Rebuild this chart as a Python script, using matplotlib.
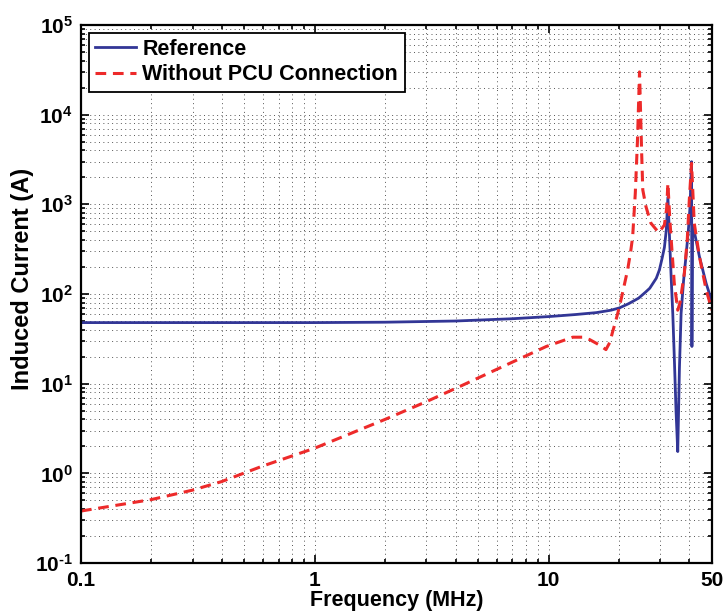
import math
import matplotlib
matplotlib.use("Agg")
import matplotlib.pyplot as plt
from matplotlib.ticker import FixedLocator, FuncFormatter, LogLocator, NullFormatter

plt.rcParams['font.family'] = ['Liberation Sans', 'DejaVu Sans']
plt.rcParams['font.weight'] = 'bold'
plt.rcParams['mathtext.fontset'] = 'custom'
plt.rcParams['mathtext.bf'] = 'Liberation Sans:bold'
plt.rcParams['mathtext.rm'] = 'Liberation Sans:bold'

# Reference (blue, solid)
ref_freq = [0.1, 0.5, 1, 2, 4, 7, 10, 13, 16, 18.5, 20.1, 22, 24.3, 26, 27.1,
            28.9, 29.8, 30.6, 31.3, 31.9, 32.4, 32.9, 33.4, 34.0, 34.5, 35.1,
            35.7, 36.3, 36.9, 37.8, 38.7, 39.6, 40.3, 40.9, 41.05, 41.3, 42.0,
            44.2, 47.2, 50]
ref_curr = [48, 48, 48, 48.5, 50, 53, 56, 59, 62, 66, 70, 78, 90, 105, 116,
            150, 186, 250, 330, 520, 1200, 450, 171, 60, 20, 5,
            1.75, 15, 61, 140, 261, 500, 944, 2990, 26, 580, 500,
            261, 132, 82]

# Without PCU connection (red, dashed)
pcu_freq = [0.1, 0.2, 0.3, 0.4, 0.59, 1.0, 2.0, 3.0, 4.17, 6.6, 9.78, 12.7,
            14.0, 15.0, 16.5, 17.6, 18.3, 18.8, 19.3, 20.1, 21.0, 21.8, 22.5,
            22.9, 23.5, 24.0, 24.5, 25.0, 25.3, 26.1, 27.4, 29.6, 31.3, 32.0,
            32.4, 33.0, 33.4, 34.5, 35.7, 36.5, 38.1, 39.2, 40.0, 40.9, 42.0,
            44.2, 47.2, 50]
pcu_curr = [0.38, 0.51, 0.65, 0.81, 1.19, 1.91, 4.0, 6.3, 9.3, 16.2, 26, 33,
            33, 31, 27, 24, 29, 38, 48, 72, 120, 187, 309,
            437, 1330, 5000, 30000, 4000, 1450, 944, 617, 484, 588, 900,
            1720, 700, 437, 132, 66, 80, 171, 400, 1120, 2870, 617,
            261, 112, 66]

x_ticks = [0.1, 1, 10, 50]
x_labels = ['0.1', '1', '10', '50']
y_ticks = [1e-1, 1e0, 1e1, 1e2, 1e3, 1e4, 1e5]


def pow_label(v, pos):
    e = str(round(math.log10(v))).replace('-', '\u2010')
    return r'$\mathbf{10^{%s}}$' % e


fig = plt.figure(figsize=(7.25, 6.16), dpi=100)
ax = fig.add_axes([0.1117, 0.086, 0.8703, 0.8734])

ax.loglog(ref_freq, ref_curr, color='#323696', lw=2.0, label='Reference')
ax.loglog(pcu_freq, pcu_curr, color='#ed2a2a', lw=2.2, dashes=(3.5, 2.2),
          label='Without PCU Connection')

ax.set_xlim(0.1, 50)
ax.set_ylim(1e-1, 1e5)

ax.xaxis.set_major_locator(FixedLocator(x_ticks))
ax.xaxis.set_major_formatter(FuncFormatter(lambda v, p: x_labels[p] if p is not None and p < len(x_labels) else ''))
ax.xaxis.set_minor_locator(LogLocator(base=10, subs=range(2, 10), numticks=20))
ax.xaxis.set_minor_formatter(NullFormatter())
ax.yaxis.set_major_locator(FixedLocator(y_ticks))
ax.yaxis.set_major_formatter(FuncFormatter(pow_label))
ax.yaxis.set_minor_locator(LogLocator(base=10, subs=range(2, 10), numticks=20))
ax.yaxis.set_minor_formatter(NullFormatter())

ax.grid(True, which='both', linestyle=(0, (1, 3.5)), color='#555555', lw=0.7)
ax.tick_params(which='both', direction='in', top=True, right=True, labelsize=15, width=1.2)
ax.tick_params(which='major', length=6, pad=6)
ax.tick_params(which='minor', length=3)
for s in ax.spines.values():
    s.set_linewidth(1.6)

ax.set_xlabel('Frequency (MHz)', fontsize=15.5, fontweight='bold', labelpad=0)
ax.set_ylabel('Induced Current (A)', fontsize=17, fontweight='bold')
ax.yaxis.set_label_coords(-0.075, 0.528)

leg = ax.legend(loc='upper left', fontsize=15.5, fancybox=False, framealpha=1,
                edgecolor='black', borderaxespad=0.35, handlelength=1.9,
                handletextpad=0.3, borderpad=0.3, labelspacing=0.2)
leg.get_frame().set_linewidth(1.3)
for t in leg.get_texts():
    t.set_fontweight('bold')

fig.savefig('out.png', dpi=100)
